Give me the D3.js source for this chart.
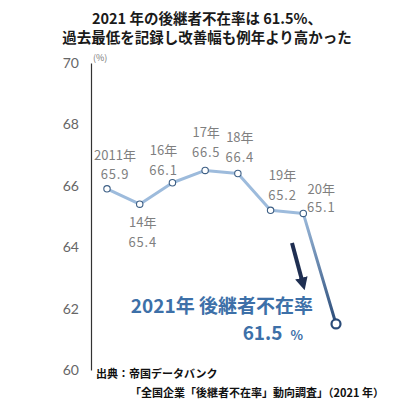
<!DOCTYPE html>
<html>
<head>
<meta charset="utf-8">
<script src="https://cdn.jsdelivr.net/npm/d3@7"></script>
<style>
  body { margin: 0; background: #fff; }
  svg { display: block; font-family: "Noto Sans CJK JP", "Noto Sans", sans-serif; }
</style>
</head>
<body>
<svg width="418" height="408"></svg>
<script>
// values
const years = ['2011', '2014', '2016', '2017', '2018', '2019', '2020', '2021'];
const yearLabels = ['2011年', '14年', '16年', '17年', '18年', '19年', '20年', ''];
const rates = [65.9, 65.4, 66.1, 66.5, 66.4, 65.2, 65.1, 61.5];
const yTicks = [60, 62, 64, 66, 68, 70];

const titleLines = ['2021 年の後継者不在率は 61.5%、', '過去最低を記録し改善幅も例年より高かった'];
const sourceLines = ['出典：帝国データバンク', '「全国企業「後継者不在率」動向調査」（2021 年）'];

const svg = d3.select('svg');

const x = d3.scalePoint()
    .domain(years)
    .range([107, 336]);

const y = d3.scaleLinear()
    .domain([60, 70])
    .range([370, 63]);

// title
svg.selectAll('.title')
  .data(titleLines)
  .enter().append('text')
    .attr('x', 207)
    .attr('y', (d, i) => 24 + i * 19)
    .attr('text-anchor', 'middle')
    .attr('font-size', 14.5)
    .attr('font-weight', 'bold')
    .attr('fill', '#1a1a1a')
    .text(d => d);

// y axis
const yAxis = d3.axisLeft(y)
    .tickValues(yTicks)
    .tickSize(0)
    .tickSizeOuter(0)
    .tickPadding(12);

const gY = svg.append('g')
    .attr('transform', 'translate(91,0)')
    .call(yAxis);

gY.select('.domain').attr('stroke', '#333').attr('stroke-width', 1.2);
gY.selectAll('text')
    .attr('font-size', 14)
    .attr('fill', '#666')
    .attr('font-family', 'Lato, "Noto Sans", sans-serif');

svg.append('text')
    .attr('x', 93)
    .attr('y', 61)
    .attr('font-size', 9)
    .attr('fill', '#777')
    .text('(%)');

// line, last segment fades to dark
const pts = years.map((d, i) => [x(d), y(rates[i])]);
const n = pts.length;

const defs = svg.append('defs');
const grad = defs.append('linearGradient')
    .attr('id', 'drop')
    .attr('gradientUnits', 'userSpaceOnUse')
    .attr('x1', pts[n - 2][0]).attr('y1', pts[n - 2][1])
    .attr('x2', pts[n - 1][0]).attr('y2', pts[n - 1][1]);
grad.append('stop').attr('offset', '0%').attr('stop-color', '#9dbbdc');
grad.append('stop').attr('offset', '100%').attr('stop-color', '#2a4b78');

const line = d3.line();

svg.append('path')
    .attr('d', line(pts.slice(0, n - 1)))
    .attr('fill', 'none')
    .attr('stroke', '#9dbbdc')
    .attr('stroke-width', 3)
    .attr('stroke-linejoin', 'round');

svg.append('path')
    .attr('d', line(pts.slice(n - 2)))
    .attr('fill', 'none')
    .attr('stroke', 'url(#drop)')
    .attr('stroke-width', 3)
    .attr('stroke-linecap', 'round');

svg.selectAll('.dot')
  .data(pts)
  .enter().append('circle')
    .attr('cx', d => d[0])
    .attr('cy', d => d[1])
    .attr('r', (d, i) => i === n - 1 ? 4.5 : 3.2)
    .attr('fill', '#fff')
    .attr('stroke', (d, i) => i === n - 1 ? '#2a4b78' : '#3d5f85')
    .attr('stroke-width', (d, i) => i === n - 1 ? 2.2 : 1.1);

// point labels: [dx, dy of year label, dy of value label]
const labelPos = [[8, -29, -10], [3, 23, 43], [-9, -28, -8], [1, -33, -13],
                  [2, -32, -12], [12, -30, -10], [18, -19, -1]];

labelPos.forEach((p, i) => {
  const g = svg.append('g')
      .attr('text-anchor', 'middle')
      .attr('font-size', 13)
      .attr('fill', '#7f7f7f');
  g.append('text')
      .attr('x', pts[i][0] + p[0])
      .attr('y', pts[i][1] + p[1])
      .text(yearLabels[i]);
  g.append('text')
      .attr('x', pts[i][0] + p[0])
      .attr('y', pts[i][1] + p[2])
      .attr('letter-spacing', 0.8)
      .text(d3.format('.1f')(rates[i]));
});

// arrow
defs.append('marker')
    .attr('id', 'head')
    .attr('viewBox', '0 0 10 10')
    .attr('refX', 5).attr('refY', 5)
    .attr('markerWidth', 3.2).attr('markerHeight', 3.2)
    .attr('orient', 'auto')
  .append('path')
    .attr('d', 'M0,0 L10,5 L0,10 Z')
    .attr('fill', '#1f2f52');

svg.append('line')
    .attr('x1', 292).attr('y1', 243)
    .attr('x2', 303).attr('y2', 284)
    .attr('stroke', '#1f2f52')
    .attr('stroke-width', 4)
    .attr('marker-end', 'url(#head)');

// annotation
svg.append('text')
    .attr('x', 313)
    .attr('y', 313)
    .attr('text-anchor', 'end')
    .attr('font-size', 19)
    .attr('font-weight', 'bold')
    .attr('fill', '#3d70a8')
    .text('2021年 後継者不在率');

const big = svg.append('text')
    .attr('x', 303)
    .attr('y', 340)
    .attr('text-anchor', 'end')
    .attr('font-weight', 'bold')
    .attr('fill', '#3d70a8');
big.append('tspan').attr('font-size', 19).text(d3.format('.1f')(rates[n - 1]));
big.append('tspan').attr('font-size', 13).attr('dx', 8).text('%');

// source
svg.append('text')
    .attr('x', 96).attr('y', 378)
    .attr('font-size', 11)
    .attr('font-weight', 'bold')
    .attr('fill', '#111')
    .text(sourceLines[0]);

svg.append('text')
    .attr('x', 130).attr('y', 397)
    .attr('font-size', 11)
    .attr('font-weight', 'bold')
    .attr('fill', '#111')
    .text(sourceLines[1]);
</script>
</body>
</html>
